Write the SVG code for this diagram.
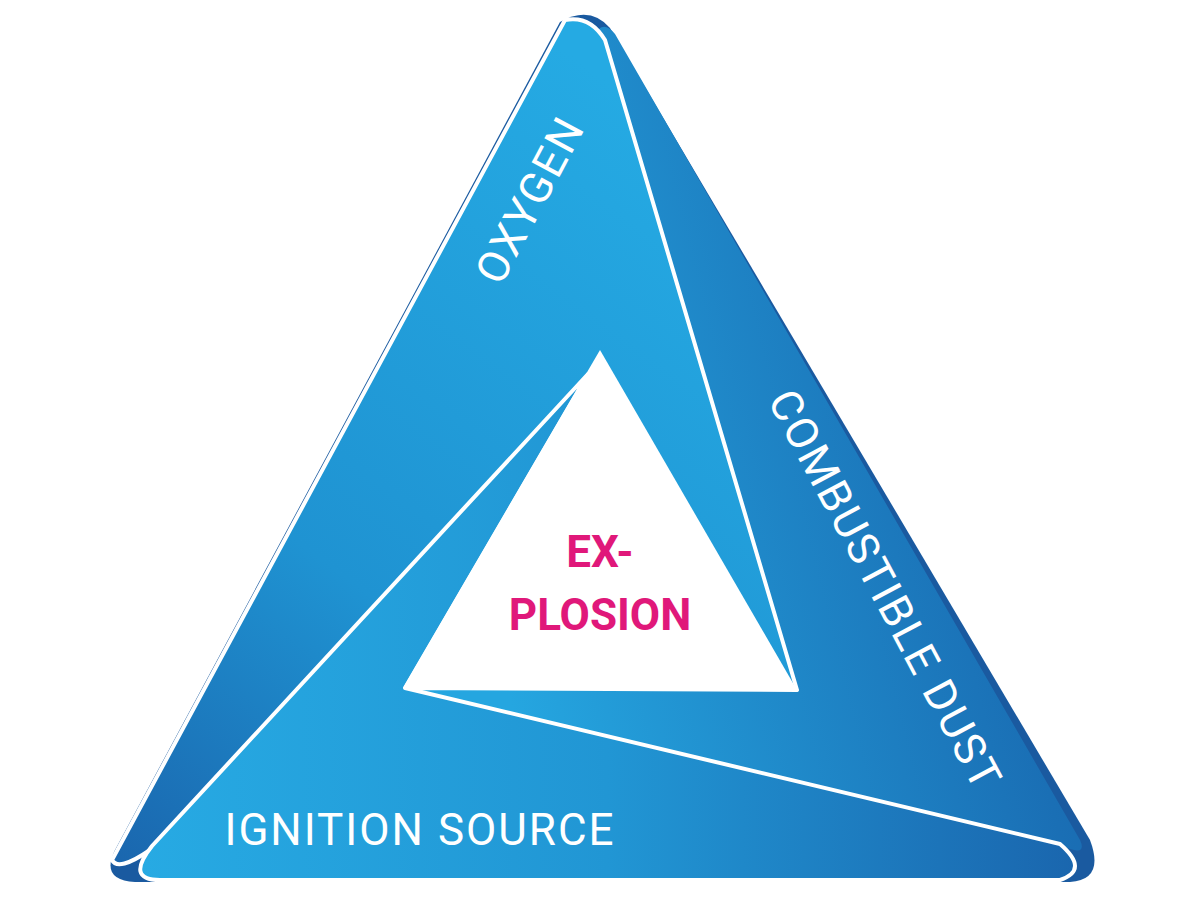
<svg xmlns="http://www.w3.org/2000/svg" width="1200" height="900" viewBox="0 0 1200 900">
<defs>
<linearGradient id="gc" x1="1" y1="0" x2="0" y2="0.3"><stop offset="0" stop-color="#1a5fa8"/><stop offset="0.3" stop-color="#1a6fb5"/><stop offset="1" stop-color="#25a6e0"/></linearGradient>
<linearGradient id="go" x1="0" y1="1" x2="0.6" y2="0"><stop offset="0" stop-color="#1a66ae"/><stop offset="0.4" stop-color="#1f93d2"/><stop offset="1" stop-color="#25aae3"/></linearGradient>
<linearGradient id="gi" x1="0" y1="0" x2="1" y2="0"><stop offset="0" stop-color="#27aae3"/><stop offset="0.5" stop-color="#2196d4"/><stop offset="1" stop-color="#1a66ae"/></linearGradient>
<style>.b{stroke:#fff;stroke-width:4;stroke-linejoin:round}.t{font-family:Roboto,"Liberation Sans",sans-serif;fill:#fff;font-size:44px;letter-spacing:2px}</style>
</defs>
<path d="M560 22 Q590 5 610 28 L1090 840 Q1105 880 1070 882 L135 882 Q100 880 115 850 Z" fill="#1a5aa0"/>
<g id="combustible"><path d="M598 30 Q605 22 615 34 L1080 840 Q1088 858 1060 845 L405 688 L797 690 Z" fill="url(#gc)"/></g>
<g id="oxygen"><path d="M565 20 Q590 15 605 40 L797 690 L405 688 L150 850 Q118 872 112 860 Z" fill="url(#go)" class="b"/></g>
<g id="ignition"><path d="M588 374 L152 846 Q125 880 160 880 L1060 880 Q1090 870 1060 844 L405 688 Z" fill="url(#gi)" class="b"/></g>
<g id="explosion"><path d="M600 350 L403 688 L797 690 Z" fill="#fff"/>
<text x="600" y="567" text-anchor="middle" font-family="Roboto,'Liberation Sans',sans-serif" font-weight="bold" font-size="44" fill="#e0187a">EX-</text>
<text x="600" y="630" text-anchor="middle" font-family="Roboto,'Liberation Sans',sans-serif" font-weight="bold" font-size="44" fill="#e0187a">PLOSION</text></g>
<text class="t" transform="translate(530,200) rotate(-62)" text-anchor="middle" dy="15">OXYGEN</text>
<text class="t" transform="translate(885,590) rotate(62)" text-anchor="middle" dy="15">COMBUSTIBLE DUST</text>
<text class="t" x="420" y="845" text-anchor="middle">IGNITION SOURCE</text>
</svg>
